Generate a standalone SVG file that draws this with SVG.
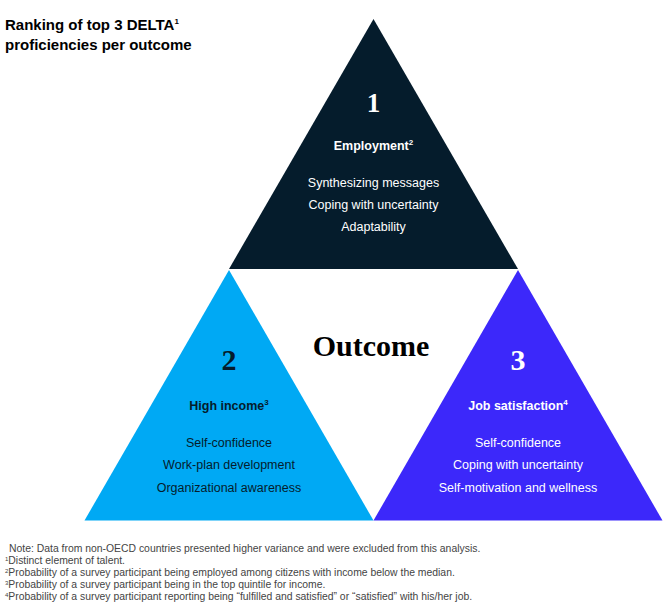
<svg xmlns="http://www.w3.org/2000/svg" width="670" height="612" viewBox="0 0 670 612">
<style>
.title{font-family:"Liberation Sans",Arial,sans-serif;font-weight:bold;font-size:15px;fill:#000}
.num{font-family:"Liberation Serif","Times New Roman",serif;font-weight:bold;text-anchor:middle}
.head{font-family:"Liberation Sans",Arial,sans-serif;font-weight:bold;font-size:12.5px;text-anchor:middle}
.item{font-family:"Liberation Sans",Arial,sans-serif;font-size:12.5px;text-anchor:middle}
.sup{font-size:8px}
.note{font-family:"Liberation Sans",Arial,sans-serif;font-size:10.4px;fill:#444}
.light{fill:#fff}
.dark{fill:#051C2C}
</style>
<rect width="670" height="612" fill="#fff"/>
<g id="title">
<text class="title" x="5" y="30">Ranking of top 3 DELTA<tspan class="sup" dy="-6">1</tspan></text>
<text class="title" x="5" y="50">proficiencies per outcome</text>
</g>
<g id="employment">
<polygon points="373.5,19 229,269 518,269" fill="#051C2C"/>
<text class="num light" x="373.5" y="112" font-size="27">1</text>
<text class="head light" x="373.5" y="150">Employment<tspan class="sup" dy="-5">2</tspan></text>
<text class="item light" x="373.5" y="187">Synthesizing messages</text>
<text class="item light" x="373.5" y="209">Coping with uncertainty</text>
<text class="item light" x="373.5" y="231">Adaptability</text>
</g>
<g id="high-income">
<polygon points="229,270 84.5,520.5 373.5,520.5" fill="#00A9F4"/>
<text class="num dark" x="229" y="370" font-size="30">2</text>
<text class="head dark" x="229" y="410">High income<tspan class="sup" dy="-5">3</tspan></text>
<text class="item dark" x="229" y="447">Self-confidence</text>
<text class="item dark" x="229" y="469">Work-plan development</text>
<text class="item dark" x="229" y="492">Organizational awareness</text>
</g>
<g id="job-satisfaction">
<polygon points="518,270 373.5,520.5 662.5,520.5" fill="#3C28FA"/>
<text class="num light" x="518" y="370" font-size="30">3</text>
<text class="head light" x="518" y="410">Job satisfaction<tspan class="sup" dy="-5">4</tspan></text>
<text class="item light" x="518" y="447">Self-confidence</text>
<text class="item light" x="518" y="469">Coping with uncertainty</text>
<text class="item light" x="518" y="492">Self-motivation and wellness</text>
</g>
<g id="outcome">
<text class="num" x="371" y="356" font-size="30" fill="#000">Outcome</text>
</g>
<g id="connectors"></g>
<g id="notes">
<text class="note" x="9" y="552">Note: Data from non-OECD countries presented higher variance and were excluded from this analysis.</text>
<text class="note" x="5" y="564"><tspan font-size="6" dy="-3">1</tspan><tspan dy="3">Distinct element of talent.</tspan></text>
<text class="note" x="5" y="576"><tspan font-size="6" dy="-3">2</tspan><tspan dy="3">Probability of a survey participant being employed among citizens with income below the median.</tspan></text>
<text class="note" x="5" y="588"><tspan font-size="6" dy="-3">3</tspan><tspan dy="3">Probability of a survey participant being in the top quintile for income.</tspan></text>
<text class="note" x="5" y="600"><tspan font-size="6" dy="-3">4</tspan><tspan dy="3">Probability of a survey participant reporting being “fulfilled and satisfied” or “satisfied” with his/her job.</tspan></text>
</g>
</svg>
